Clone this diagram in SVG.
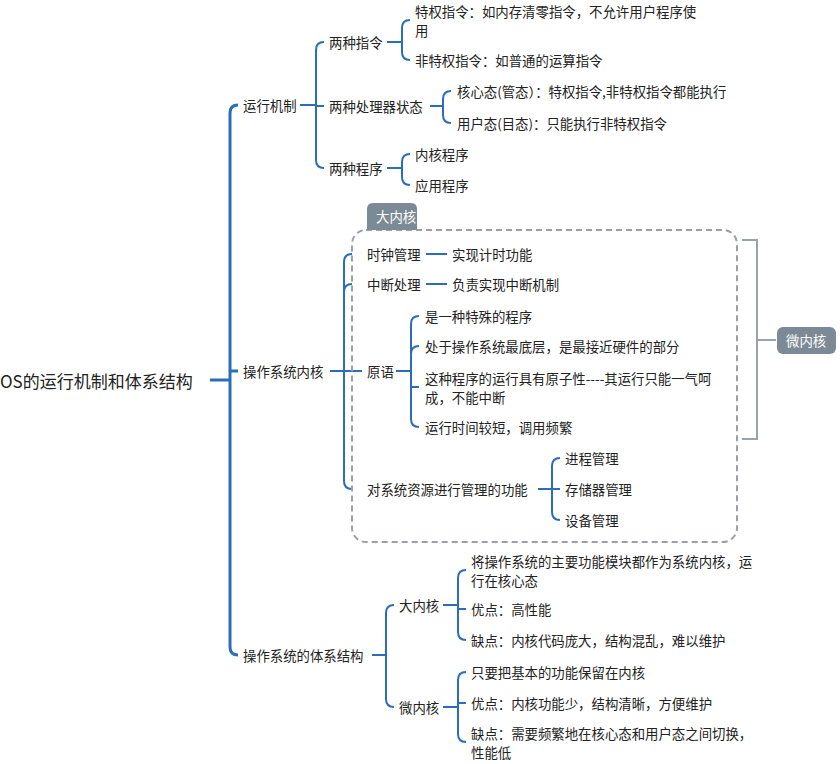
<svg xmlns="http://www.w3.org/2000/svg" width="840" height="764" viewBox="0 0 840 764">
<style>
text{font-family:"Noto Sans CJK SC","Liberation Sans",sans-serif;font-size:13.4px;fill:#222;dominant-baseline:central}
.c{fill:none;stroke:#2a6ebb;stroke-width:2}
.t{fill:none;stroke:#2a6ebb;stroke-width:3}
.tag{fill:#7b8a95}
.tw{fill:#fff}
</style>
<rect width="840" height="764" fill="#fff"/>
<g id="connectors">
<path class="t" d="M210 380H230M238 105Q230 105 230 113V647Q230 655 238 655M230 371H238"/>
<path class="c" d="M300 105H316M324 42Q316 42 316 50V160Q316 168 324 168M316 106H324"/>
<path class="c" d="M387 42H402M410 20Q402 20 402 28V52Q402 60 410 60"/>
<path class="c" d="M430 106H443M451 91Q443 91 443 99V115Q443 123 451 123"/>
<path class="c" d="M387 168H402M410 154Q402 154 402 162V177Q402 185 410 185"/>
<path class="c" d="M330 371H344M352 254Q344 254 344 262V481Q344 489 352 489M344 292Q344 284 352 284M344 371H362"/>
<path class="c" d="M426 254H447M426 284H447"/>
<path class="c" d="M396 371H411M419 316Q411 316 411 324V419Q411 427 419 427M411 354Q411 346 419 346M411 387H419"/>
<path class="c" d="M538 489H552M560 458Q552 458 552 466V512Q552 520 560 520M552 489H560"/>
<path class="c" d="M372 655H386M394 605Q386 605 386 613V699Q386 707 394 707"/>
<path class="c" d="M443 605H458M466 570Q458 570 458 578V632Q458 640 466 640M458 609H466"/>
<path class="c" d="M443 707H458M466 672Q458 672 458 680V734Q458 742 466 742M458 703H466"/>
<path fill="none" stroke="#9aa3a9" stroke-width="2" d="M742 240H757V439H742M757 340H776"/>
</g>
<g id="root"><text x="0" y="380" style="font-size:17px">OS的运行机制和体系结构</text></g>
<g id="n-run"><text x="243" y="105">运行机制</text></g>
<g id="n-kernel"><text x="243" y="371">操作系统内核</text></g>
<g id="n-arch"><text x="243" y="655">操作系统的体系结构</text></g>
<g id="n-ins"><text x="329" y="42">两种指令</text></g>
<g id="n-state"><text x="329" y="106">两种处理器状态</text></g>
<g id="n-prog"><text x="329" y="168">两种程序</text></g>
<g id="n-ins1"><text x="415" y="11">特权指令：如内存清零指令，不允许用户程序使</text><text x="415" y="30">用</text></g>
<g id="n-ins2"><text x="415" y="60">非特权指令：如普通的运算指令</text></g>
<g id="n-st1"><text x="457" y="91">核心态(管态）：特权指令,非特权指令都能执行</text></g>
<g id="n-st2"><text x="457" y="123">用户态(目态)：只能执行非特权指令</text></g>
<g id="n-p1"><text x="415" y="154">内核程序</text></g>
<g id="n-p2"><text x="415" y="185">应用程序</text></g>
<g id="bigbox">
<rect x="352" y="230" width="385" height="312" rx="14" fill="none" stroke="#9aa0a6" stroke-width="2" stroke-dasharray="6,4"/>
<path class="tag" d="M367 230V209Q367 203 373 203H411Q417 203 417 209V230Z"/>
<text class="tw" x="376" y="216">大内核</text>
</g>
<g id="microtag"><rect class="tag" x="777" y="327" width="59" height="27" rx="6"/><text class="tw" x="786" y="340">微内核</text></g>
<g id="n-clock"><text x="367" y="254">时钟管理</text></g>
<g id="n-clock1"><text x="452" y="254">实现计时功能</text></g>
<g id="n-int"><text x="367" y="284">中断处理</text></g>
<g id="n-int1"><text x="452" y="284">负责实现中断机制</text></g>
<g id="n-prim"><text x="367" y="371">原语</text></g>
<g id="n-pr1"><text x="425" y="316">是一种特殊的程序</text></g>
<g id="n-pr2"><text x="425" y="346">处于操作系统最底层，是最接近硬件的部分</text></g>
<g id="n-pr3"><text x="425" y="378">这种程序的运行具有原子性----其运行只能一气呵</text><text x="425" y="397">成，不能中断</text></g>
<g id="n-pr4"><text x="425" y="427">运行时间较短，调用频繁</text></g>
<g id="n-res"><text x="367" y="489">对系统资源进行管理的功能</text></g>
<g id="n-r1"><text x="565" y="458">进程管理</text></g>
<g id="n-r2"><text x="565" y="489">存储器管理</text></g>
<g id="n-r3"><text x="565" y="520">设备管理</text></g>
<g id="n-mono"><text x="399" y="605">大内核</text></g>
<g id="n-micro"><text x="399" y="707">微内核</text></g>
<g id="n-m1"><text x="471" y="561">将操作系统的主要功能模块都作为系统内核，运</text><text x="471" y="580">行在核心态</text></g>
<g id="n-m2"><text x="471" y="609">优点：高性能</text></g>
<g id="n-m3"><text x="471" y="640">缺点：内核代码庞大，结构混乱，难以维护</text></g>
<g id="n-u1"><text x="471" y="672">只要把基本的功能保留在内核</text></g>
<g id="n-u2"><text x="471" y="703">优点：内核功能少，结构清晰，方便维护</text></g>
<g id="n-u3"><text x="471" y="733">缺点：需要频繁地在核心态和用户态之间切换，</text><text x="471" y="752">性能低</text></g>
</svg>
